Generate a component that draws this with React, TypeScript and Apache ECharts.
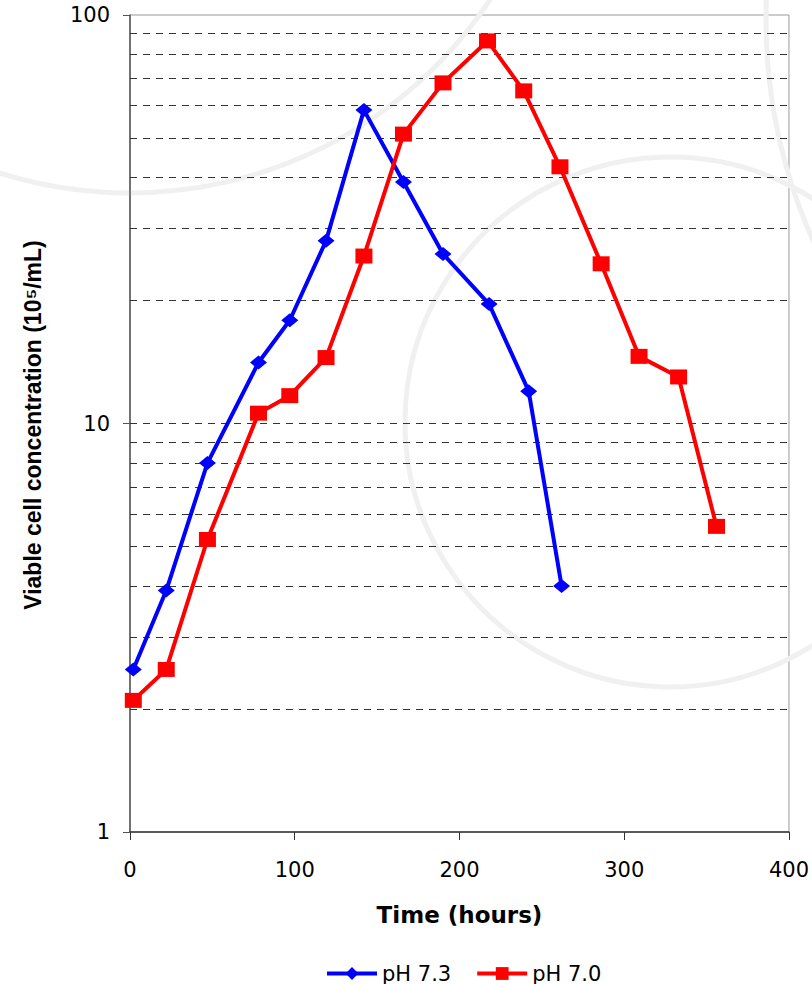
import React, { useEffect, useRef } from "react";
import * as echarts from "echarts";

const timePH73 = [2, 22, 47, 78, 97, 119, 142, 166, 190, 218, 242, 262];
const valuesPH73 = [2.5, 3.9, 8.0, 14.1, 17.9, 28, 58.5, 39, 26, 19.6, 12.0, 4.0];
const timePH70 = [2, 22, 47, 78, 97, 119, 142, 166, 190, 217, 239, 261, 286, 309, 333, 356];
const valuesPH70 = [2.1, 2.5, 5.2, 10.6, 11.7, 14.5, 25.7, 51.1, 68.2, 86.4, 65.2, 42.5, 24.6, 14.6, 13.0, 5.6];
const gridValues = [2, 3, 4, 5, 6, 7, 8, 9, 10, 20, 30, 40, 50, 60, 70, 80, 90];
const seriesNames = ["pH 7.3", "pH 7.0"];
const yTitle = "Viable cell concentration (10\u2075/mL)";

export default function App() {
  const ref = useRef<HTMLDivElement>(null);
  useEffect(() => {
    if (!ref.current) return;
    const chart = echarts.init(ref.current, null, { renderer: "svg" });
    const wm = { fill: "none", stroke: "#f0f0f0", lineWidth: 5 };
    chart.setOption({
      animation: false,
      backgroundColor: "#fff",
      graphic: [
        { type: "circle", z: 0, silent: true, shape: { cx: 130, cy: -239, r: 432 }, style: wm },
        { type: "circle", z: 0, silent: true, shape: { cx: 670, cy: 422, r: 265 }, style: wm },
        { type: "circle", z: 0, silent: true, shape: { cx: 1306, cy: 20, r: 540 }, style: wm },
        {
          type: "text",
          z: 10,
          x: 33,
          y: 425,
          rotation: Math.PI / 2,
          style: {
            text: yTitle,
            fontFamily: "Liberation Sans",
            fontWeight: "bold",
            fontSize: 23,
            align: "center",
            verticalAlign: "middle",
            fill: "#000",
          },
        },
      ],
      grid: {
        left: 130,
        right: 22,
        top: 15,
        bottom: 152,
        show: true,
        borderColor: "#999",
        borderWidth: 1,
        backgroundColor: "transparent",
      },
      legend: {
        left: 320,
        top: 958,
        itemWidth: 50,
        itemHeight: 16,
        itemGap: 24,
        lineStyle: { width: 4 },
        textStyle: { fontFamily: "DejaVu Sans", fontSize: 21, color: "#000" },
        data: seriesNames,
      },
      xAxis: {
        type: "value",
        min: 0,
        max: 400,
        interval: 100,
        name: "Time (hours)",
        nameLocation: "middle",
        nameGap: 71,
        nameTextStyle: { fontFamily: "DejaVu Sans", fontWeight: "bold", fontSize: 23, color: "#000" },
        axisLine: { lineStyle: { color: "#333", width: 1.5 } },
        axisTick: { show: true, length: 8, lineStyle: { color: "#333" } },
        axisLabel: { fontFamily: "DejaVu Sans", fontSize: 21, color: "#000", margin: 27 },
        splitLine: { show: false },
      },
      yAxis: {
        type: "log",
        logBase: 10,
        min: 1,
        max: 100,
        axisLine: { show: true, lineStyle: { color: "#555", width: 1.5 } },
        axisTick: { show: true, length: 7, lineStyle: { color: "#555" } },
        axisLabel: { fontFamily: "DejaVu Sans", fontSize: 21, color: "#000", margin: 20 },
        splitLine: { show: false },
        minorTick: { show: false },
      },
      series: [
        {
          name: seriesNames[0],
          type: "line",
          z: 4,
          data: timePH73.map((t, i) => [t, valuesPH73[i]]),
          symbol: "diamond",
          symbolSize: [17, 14],
          lineStyle: { color: "#0000ff", width: 4 },
          itemStyle: { color: "#0000ff" },
          markLine: {
            silent: true,
            symbol: ["none", "none"],
            label: { show: false },
            lineStyle: { color: "#333", width: 1, type: [7, 6] },
            z: 1,
            data: gridValues.map((v) => ({ yAxis: v })),
          },
        },
        {
          name: seriesNames[1],
          type: "line",
          z: 5,
          data: timePH70.map((t, i) => [t, valuesPH70[i]]),
          symbol: "rect",
          symbolSize: [17, 15],
          lineStyle: { color: "#ff0000", width: 4 },
          itemStyle: { color: "#ff0000" },
        },
      ],
    });
    return () => chart.dispose();
  }, []);
  return (
    <div
      ref={ref}
      style={{ position: "fixed", left: 0, top: 0, width: 812, height: 984 }}
    />
  );
}
